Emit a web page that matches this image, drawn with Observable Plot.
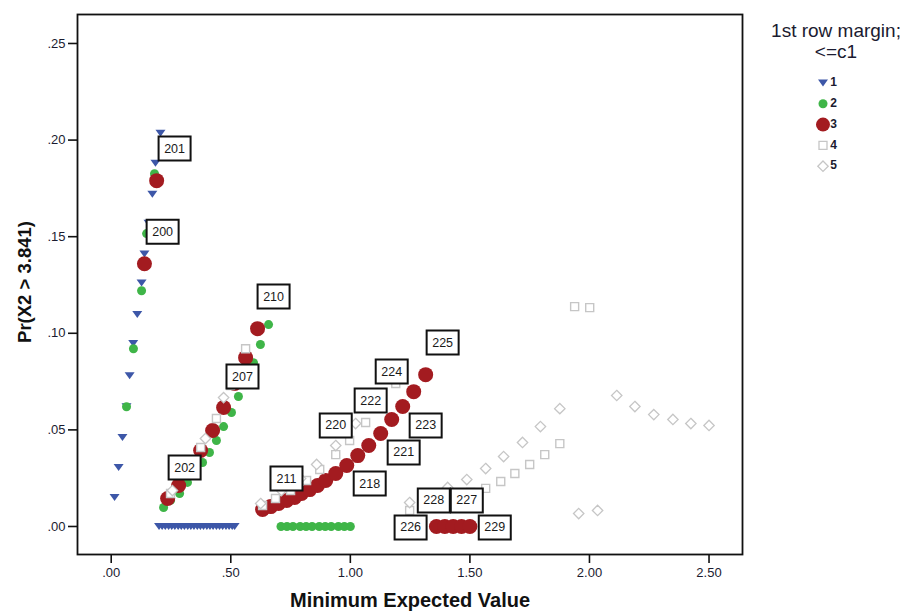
<!DOCTYPE html>
<html><head><meta charset="utf-8">
<script src="https://cdn.jsdelivr.net/npm/d3@7"></script>
<script src="https://cdn.jsdelivr.net/npm/@observablehq/plot@0.6"></script>
<style>
body{margin:0;background:#fff;}
#chart{position:relative;width:909px;height:614px;}
</style></head><body><div id="chart"></div>
<script>
// ---- Data ----
const xTicks = [0, 0.5, 1, 1.5, 2, 2.5];
const yTicks = [0, 0.05, 0.10, 0.15, 0.20, 0.25];

// Series 1 (1st row margin <= c1 : 1)
const s1x = [0.014,0.031,0.047,0.064,0.077,0.092,0.109,0.127,0.139,0.156,0.172,0.185,0.206,
  0.200,0.213,0.226,0.240,0.253,0.266,0.280,0.293,0.306,0.320,0.333,0.346,0.360,0.373,0.386,0.400,0.413,0.426,0.440,0.453,0.466,0.480,0.493,0.506,0.516];
const s1y = [0.015,0.0305,0.046,0.062,0.078,0.0947,0.1097,0.126,0.141,0.157,0.172,0.188,0.2035,
  0,0,0,0,0,0,0,0,0,0,0,0,0,0,0,0,0,0,0,0,0,0,0,0,0];

// Series 2
const s2x = [0.064,0.093,0.127,0.148,0.181,
  0.219,0.248,0.286,0.319,0.353,0.382,0.411,0.440,0.470,0.503,0.532,0.566,0.595,0.624,0.658,
  0.710,0.735,0.760,0.790,0.815,0.840,0.870,0.895,0.920,0.950,0.975,1.000];
const s2y = [0.062,0.092,0.122,0.1516,0.1826,
  0.0098,0.0135,0.0171,0.0228,0.0285,0.0331,0.0383,0.0445,0.0517,0.059,0.0673,0.076,0.0848,0.0942,0.1045,
  0,0,0,0,0,0,0,0,0,0,0,0];

// Series 3
const s3x = [0.139,0.190,
  0.236,0.282,0.328,0.374,0.424,0.470,0.516,0.562,0.612,
  0.633,0.667,0.700,0.734,0.767,0.796,0.830,0.863,0.897,0.939,0.985,1.031,1.077,1.127,1.173,1.219,1.265,1.315,
  1.360,1.395,1.430,1.465,1.500];
const s3y = [0.136,0.179,
  0.0145,0.0212,0.0305,0.0393,0.0497,0.0616,0.074,0.0874,0.1024,
  0.0088,0.0103,0.0119,0.0135,0.015,0.0171,0.0191,0.0212,0.0238,0.0274,0.0316,0.0367,0.0419,0.0481,0.0554,0.0621,0.0698,0.0786,
  0,0,0,0,0];

// Series 4
const s4x = [0.248,0.311,0.374,0.440,0.499,0.562,
  0.633,0.687,0.750,0.817,0.872,0.939,0.997,1.064,1.127,1.190,
  1.248,1.311,1.374,1.437,1.503,1.566,1.629,1.688,1.750,1.813,1.876,1.938,2.001];
const s4y = [0.0171,0.030,0.0409,0.0559,0.073,0.092,
  0.0109,0.0145,0.0186,0.0238,0.0295,0.0372,0.0445,0.0538,0.0636,0.074,
  0.0083,0.0103,0.0129,0.015,0.0176,0.0197,0.0233,0.0274,0.0321,0.0372,0.0429,0.1138,0.1133];

// Series 5
const s5x = [0.256,0.323,0.394,0.470,
  0.625,0.712,0.792,0.859,0.939,1.022,
  1.248,1.328,1.407,1.487,1.566,1.641,1.720,1.795,1.876,1.955,2.034,2.114,2.190,2.269,2.349,2.424,2.500];
const s5y = [0.0186,0.0316,0.0455,0.0667,
  0.0119,0.0186,0.0248,0.0321,0.0419,0.0533,
  0.0124,0.016,0.0202,0.0243,0.030,0.0362,0.0435,0.0517,0.061,0.0067,0.0083,0.0678,0.0621,0.0579,0.0554,0.0533,0.0523];

// Case labels
const labId = ["201","200","210","207","202","211","218","220","221","222","223","224","225","226","227","228","229"];
const labX = [0.265,0.215,0.679,0.549,0.307,0.733,1.081,0.939,1.223,1.085,1.315,1.173,1.386,1.252,1.487,1.349,1.604];
const labY = [0.1956,0.1526,0.119,0.0776,0.0305,0.0248,0.0222,0.0523,0.0383,0.0652,0.0523,0.0802,0.0952,-0.0005,0.0135,0.0135,-0.0005];

const legendNames = ["1","2","3","4","5"];
const legendTitle = ["1st row margin;", "<=c1"];
const xTitle = "Minimum Expected Value";
const yTitle = "Pr(X2 > 3.841)";

// ---- Build tables ----
const zip = (xs, ys) => xs.map((x, i) => ({x, y: ys[i]}));
const d1 = zip(s1x, s1y), d2 = zip(s2x, s2y), d3s = zip(s3x, s3y), d4 = zip(s4x, s4y), d5 = zip(s5x, s5y);
const labels = labId.map((id, i) => ({id, x: labX[i], y: labY[i]}));

// ---- Styles ----
const BLUE = "#3d57a8", GREEN = "#3fb548", RED = "#a31b20", GRAY = "#c6c6c6";
const triDown = {draw(c){ c.moveTo(-5,-3.5); c.lineTo(5,-3.5); c.lineTo(0,3.5); c.closePath(); }};
const sq = {draw(c){ c.rect(-4,-4,8,8); }};
const dia = {draw(c){ c.moveTo(0,-5.2); c.lineTo(5.2,0); c.lineTo(0,5.2); c.lineTo(-5.2,0); c.closePath(); }};
const box = {draw(c){ c.rect(-16,-12,32,24); }};
const fmt = d => d3.format(".2f")(d).replace(/^0\./, ".");

const plot = Plot.plot({
  width: 909, height: 614,
  marginLeft: 77, marginRight: 167, marginTop: 14, marginBottom: 60,
  style: {fontFamily: "'Liberation Sans', Arial, sans-serif", background: "transparent"},
  x: {domain: [-0.141, 2.64], label: null},
  y: {domain: [-0.0145, 0.265], label: null},
  marks: [
    Plot.axisX({ticks: xTicks, tickFormat: fmt, tickSize: 9, tickPadding: 4, fontSize: 13, strokeWidth: 1.6, stroke: "#111", fill: "#1b1b30", label: null}),
    Plot.axisY({ticks: yTicks, tickFormat: fmt, tickSize: 9, tickPadding: 3, fontSize: 13, strokeWidth: 1.6, stroke: "#111", fill: "#1b1b30", label: null}),
    Plot.frame({stroke: "#111", strokeWidth: 1.8}),
    Plot.dot(d1, {x: "x", y: "y", symbol: triDown, r: 4, fill: BLUE}),
    Plot.dot(d2, {x: "x", y: "y", r: 4.5, fill: GREEN}),
    Plot.dot(d3s, {x: "x", y: "y", r: 7.5, fill: RED}),
    Plot.dot(d4, {x: "x", y: "y", symbol: sq, r: 4, fill: "white", stroke: GRAY, strokeWidth: 1.4}),
    Plot.dot(d5, {x: "x", y: "y", symbol: dia, r: 4, fill: "white", stroke: GRAY, strokeWidth: 1.3}),
    Plot.dot(labels, {x: "x", y: "y", symbol: box, r: 10, fill: "white", stroke: "#111", strokeWidth: 2}),
    Plot.text(labels, {x: "x", y: "y", text: "id", fontSize: 12.5, fill: "#1a1a1a"}),
    Plot.text([xTitle], {frameAnchor: "bottom", textAnchor: "middle", dy: 52, text: d => d, fontSize: 20, fontWeight: "bold", fill: "#111"})
  ]
});

// ---- Y title and legend (right side) ----
const svg = d3.select(plot);
svg.append("text")
  .attr("transform", "translate(26,282) rotate(-90)")
  .attr("text-anchor", "middle").attr("dominant-baseline", "middle")
  .attr("font-family", "'Liberation Sans', Arial, sans-serif")
  .attr("font-size", 18.5).attr("font-weight", "bold").attr("fill", "#111").text(yTitle);

const lg = svg.append("g").attr("font-family", "'Liberation Sans', Arial, sans-serif");
lg.selectAll("text.t").data(legendTitle).join("text")
  .attr("x", 836).attr("y", (d, i) => 32 + i * 21)
  .attr("text-anchor", "middle").attr("dominant-baseline", "middle")
  .attr("font-size", 19).attr("fill", "#1b1b30").text(d => d);
const legSyms = [
  {s: triDown, fill: BLUE, stroke: "none"},
  {s: {draw(c){ c.arc(0,0,4.5,0,2*Math.PI); }}, fill: GREEN, stroke: "none"},
  {s: {draw(c){ c.arc(0,0,7,0,2*Math.PI); }}, fill: RED, stroke: "none"},
  {s: sq, fill: "white", stroke: GRAY},
  {s: dia, fill: "white", stroke: GRAY}
];
legendNames.forEach((name, i) => {
  const y = 83 + i * 20.8;
  lg.append("path").attr("transform", `translate(823,${y})`)
    .attr("d", d3.symbol(legSyms[i].s)())
    .attr("fill", legSyms[i].fill).attr("stroke", legSyms[i].stroke).attr("stroke-width", 1.3);
  lg.append("text").attr("x", 833.5).attr("y", y).attr("dominant-baseline", "middle")
    .attr("font-size", 12).attr("font-weight", "bold").attr("fill", "#1b1b30").text(name);
});

document.getElementById("chart").appendChild(plot);
</script></body></html>
